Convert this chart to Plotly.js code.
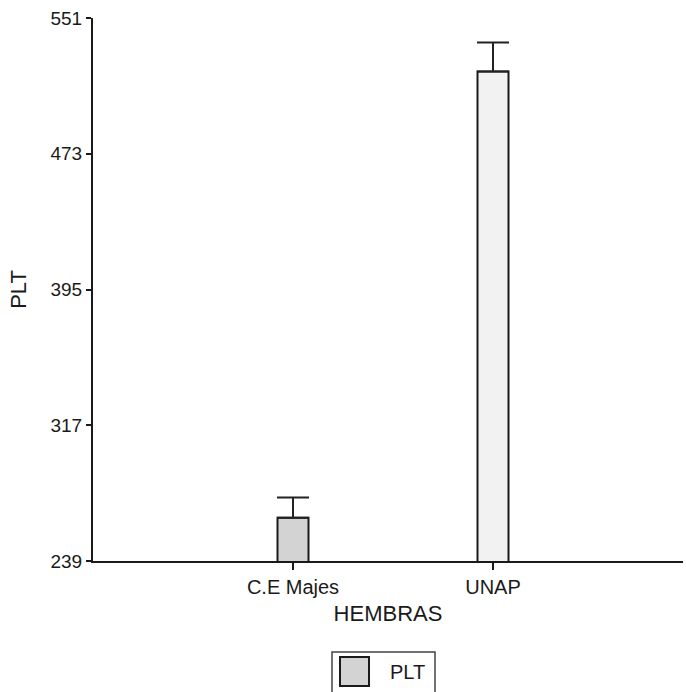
<!DOCTYPE html>
<html>
<head>
<meta charset="utf-8">
<script src="https://cdn.plot.ly/plotly-3.0.1.min.js"></script>
<style>
  html, body { margin: 0; padding: 0; background: #fff; }
  #chart { width: 686px; height: 692px; }
</style>
</head>
<body>
<div id="chart"></div>
<script>
// Group means of PLT per site (females) and their upper error
const categories = ['C.E Majes', 'UNAP'];
const pltMeans = [263.8, 520.2];
const pltErrors = [11.7, 16.7];
const barColors = ['#d3d3d3', '#f2f2f2'];
const yTicks = [239, 317, 395, 473, 551];
const seriesName = 'PLT';

const W = 686, H = 692;
const M = { l: 93, r: 3, t: 18, b: 131 };
const plotW = W - M.l - M.r, plotH = H - M.t - M.b;
// pixel -> paper helpers for the legend box drawn under the axis
const px = x => (x - M.l) / plotW;
const py = y => (H - M.b - y) / plotH;

const FONT = 'Liberation Sans, Arial, sans-serif';

const trace = {
  type: 'bar',
  x: categories,
  y: pltMeans,
  base: 0,
  width: 0.155,
  marker: { color: barColors, line: { color: '#1a1a1a', width: 2 } },
  error_y: {
    type: 'data', symmetric: false,
    array: pltErrors, arrayminus: [0, 0],
    color: '#222', thickness: 2, width: 16
  },
  name: seriesName,
  showlegend: false,
  hoverinfo: 'x+y'
};

const layout = {
  width: W, height: H,
  margin: M,
  paper_bgcolor: '#fff', plot_bgcolor: '#fff',
  font: { family: FONT, color: '#1a1a1a' },
  showlegend: false,
  xaxis: {
    type: 'category',
    range: [-1, 1.95],
    showline: true, linecolor: '#1a1a1a', linewidth: 2,
    ticks: 'outside', ticklen: 7, tickwidth: 2, tickcolor: '#1a1a1a',
    showgrid: false, zeroline: false,
    tickfont: { size: 20, family: FONT },
    title: { text: 'HEMBRAS', font: { size: 22, family: FONT }, standoff: 9 }
  },
  yaxis: {
    range: [239, 551],
    tickvals: yTicks,
    ticktext: yTicks.map(String),
    showline: true, linecolor: '#1a1a1a', linewidth: 2,
    ticks: 'outside', ticklen: 5, tickwidth: 2, tickcolor: '#1a1a1a',
    showgrid: false, zeroline: false,
    tickfont: { size: 19, family: FONT },
    title: { text: seriesName, font: { size: 22, family: FONT }, standoff: 18 }
  },
  shapes: [
    { type: 'rect', xref: 'paper', yref: 'paper',
      x0: px(332), x1: px(435), y0: py(700), y1: py(652),
      line: { color: '#444', width: 1.5 }, fillcolor: 'rgba(0,0,0,0)' },
    { type: 'rect', xref: 'paper', yref: 'paper',
      x0: px(340), x1: px(369), y0: py(686), y1: py(657),
      line: { color: '#1a1a1a', width: 2 }, fillcolor: barColors[0] }
  ],
  annotations: [
    { xref: 'paper', yref: 'paper', x: px(388), y: py(672),
      xanchor: 'left', yanchor: 'middle', showarrow: false,
      text: seriesName, font: { size: 20, family: FONT, color: '#1a1a1a' } }
  ]
};

Plotly.newPlot('chart', [trace], layout, { displayModeBar: false, staticPlot: true });
</script>
</body>
</html>
